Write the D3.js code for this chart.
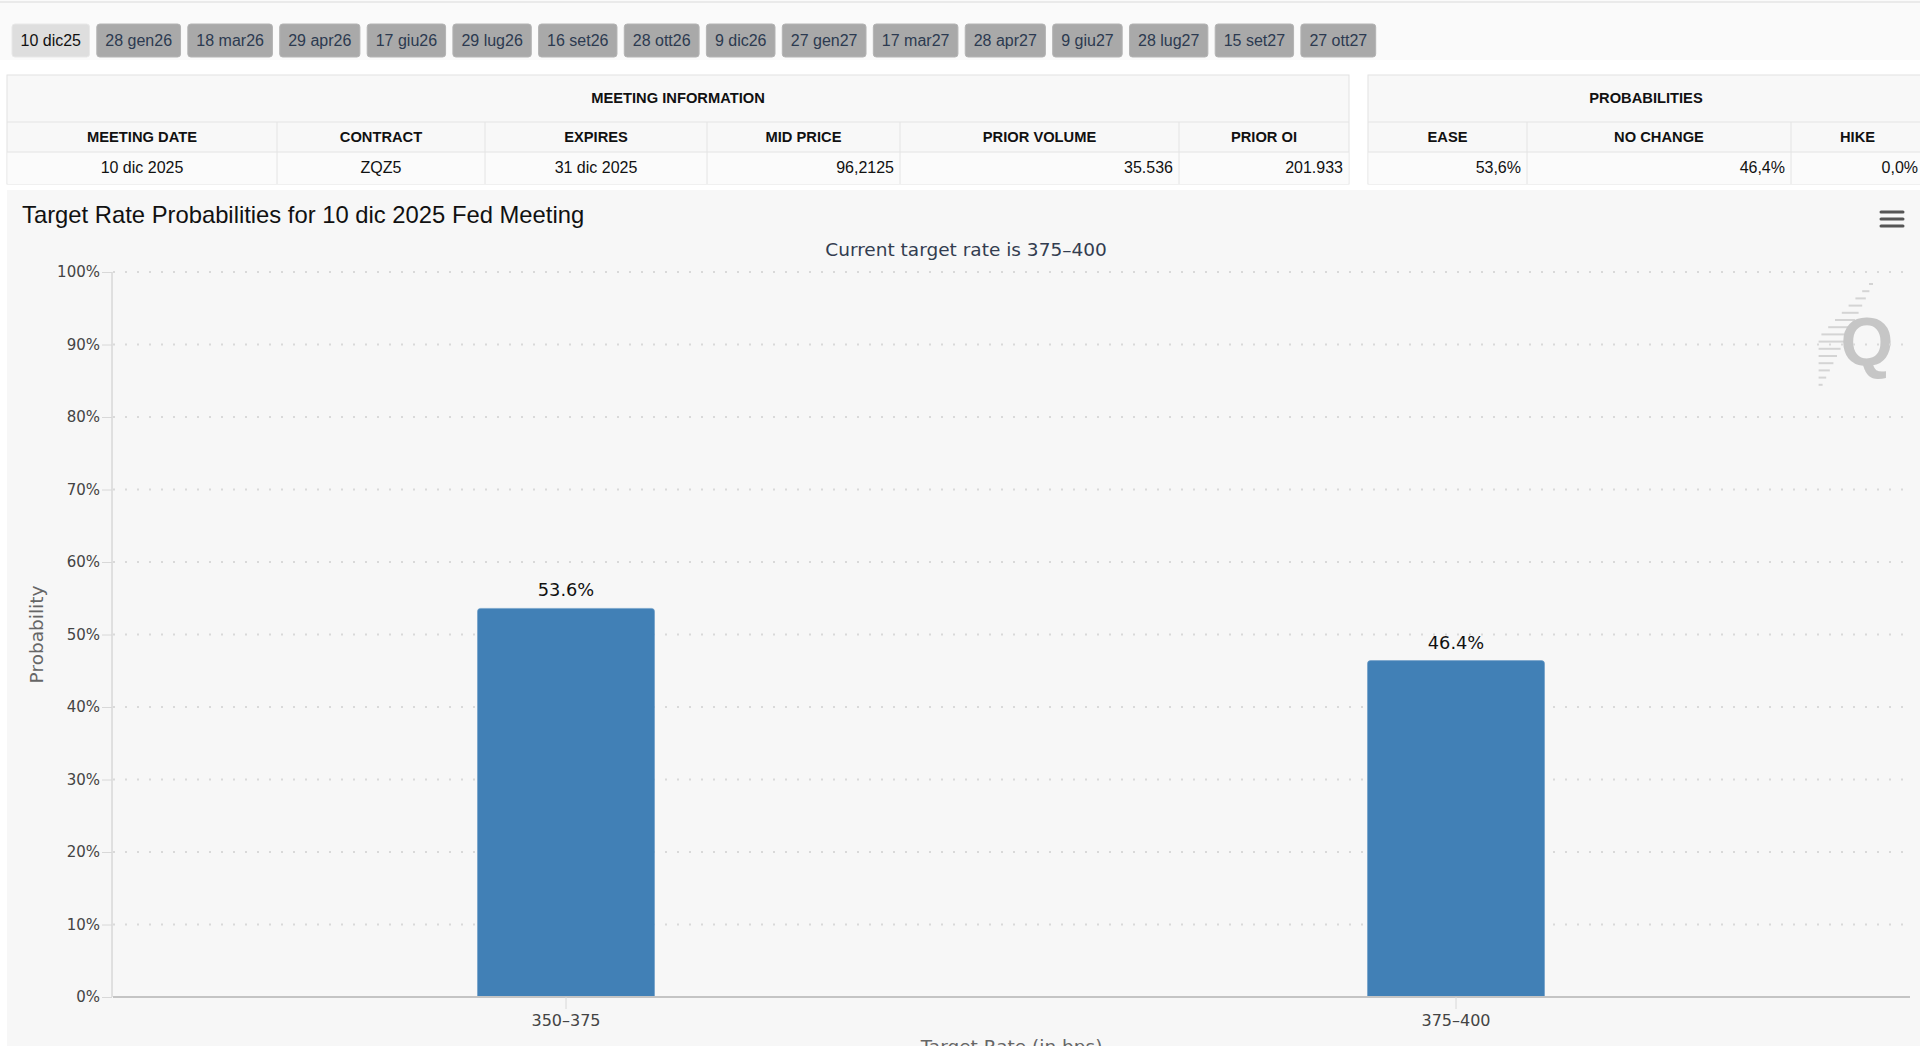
<!DOCTYPE html>
<html>
<head>
<meta charset="utf-8">
<script src="https://cdn.jsdelivr.net/npm/d3@7"></script>
<style>
    body { margin: 0; background: #fff; overflow: hidden; }
    svg { display: block; }
</style>
</head>
<body>
<svg id="page" width="1920" height="1046"></svg>
<script>
// meeting tabs
var meetingDates = ["10 dic25", "28 gen26", "18 mar26", "29 apr26", "17 giu26", "29 lug26", "16 set26", "28 ott26",
    "9 dic26", "27 gen27", "17 mar27", "28 apr27", "9 giu27", "28 lug27", "15 set27", "27 ott27"];

// tables
var infoHeaders = ["MEETING DATE", "CONTRACT", "EXPIRES", "MID PRICE", "PRIOR VOLUME", "PRIOR OI"];
var infoValues = ["10 dic 2025", "ZQZ5", "31 dic 2025", "96,2125", "35.536", "201.933"];
var probHeaders = ["EASE", "NO CHANGE", "HIKE"];
var probValues = ["53,6%", "46,4%", "0,0%"];

// chart
var targetRates = ["350–375", "375–400"];
var probabilities = [53.6, 46.4];
var yTicks = [0, 10, 20, 30, 40, 50, 60, 70, 80, 90, 100];

var svg = d3.select("#page");
var sans = "'Liberation Sans', Arial, Helvetica, sans-serif";
var chartFont = "'DejaVu Sans', Verdana, sans-serif";

// top rule
svg.append("rect").attr("x", 0).attr("y", 0).attr("width", 1920).attr("height", 60).attr("fill", "#fafafa");
svg.append("line").attr("x1", 0).attr("x2", 1920).attr("y1", 2).attr("y2", 2)
    .attr("stroke", "#e4e4e4").attr("stroke-width", 1.5);

/// Tabs: widths from the measured text
var tabs = svg.append("g").attr("class", "tabs");
var tabX = 12;
meetingDates.forEach(function (d, i) {
    var g = tabs.append("g");
    var rect = g.append("rect").attr("y", 24).attr("height", 33).attr("rx", 3)
        .attr("fill", i === 0 ? "#dedede" : "#a9a9a9")
        .attr("stroke", i === 0 ? "#e8e8e8" : "#b4b4b4");
    var t = g.append("text").attr("y", 46).attr("font-family", sans).attr("font-size", 16)
        .attr("fill", i === 0 ? "#111" : "#2c3a50").text(d);
    var w = t.node().getComputedTextLength() + 17;
    rect.attr("x", tabX).attr("width", w);
    t.attr("x", tabX + 8.5);
    tabX += w + 7.3;
});

/// Tables
function drawTable(title, headers, values, edges, aligns) {
    var g = svg.append("g");
    var x0 = edges[0], x1 = edges[edges.length - 1];
    var rows = [75, 122, 152, 184];
    g.append("rect").attr("x", x0).attr("y", rows[0]).attr("width", x1 - x0).attr("height", rows[3] - rows[0])
        .attr("fill", "#f8f8f8").attr("stroke", "#e2e2e2");
    g.append("rect").attr("x", x0 + 0.5).attr("y", rows[2]).attr("width", x1 - x0 - 1).attr("height", rows[3] - rows[2])
        .attr("fill", "#fbfbfb");
    [rows[1], rows[2]].forEach(function (y) {
        g.append("line").attr("x1", x0).attr("x2", x1).attr("y1", y).attr("y2", y).attr("stroke", "#e4e4e4");
    });
    edges.slice(1, -1).forEach(function (x) {
        g.append("line").attr("x1", x).attr("x2", x).attr("y1", rows[1]).attr("y2", rows[3]).attr("stroke", "#e4e4e4");
    });
    g.append("text").attr("x", (x0 + x1) / 2).attr("y", 103).attr("text-anchor", "middle")
        .attr("font-family", sans).attr("font-size", 14.7).attr("font-weight", "bold").attr("fill", "#111").text(title);
    headers.forEach(function (h, i) {
        g.append("text").attr("x", (edges[i] + edges[i + 1]) / 2).attr("y", 142).attr("text-anchor", "middle")
            .attr("font-family", sans).attr("font-size", 14.7).attr("font-weight", "bold").attr("fill", "#111").text(h);
    });
    values.forEach(function (v, i) {
        var right = aligns[i] === "right";
        g.append("text")
            .attr("x", right ? Math.min(edges[i + 1], 1924) - 6 : (edges[i] + edges[i + 1]) / 2)
            .attr("y", 173).attr("text-anchor", right ? "end" : "middle")
            .attr("font-family", sans).attr("font-size", 16).attr("fill", "#111").text(v);
    });
}
drawTable("MEETING INFORMATION", infoHeaders, infoValues,
    [7, 277, 485, 707, 900, 1179, 1349], ["center", "center", "center", "right", "right", "right"]);
drawTable("PROBABILITIES", probHeaders, probValues,
    [1368, 1527, 1791, 1924], ["right", "right", "right"]);

/// Chart panel
svg.append("rect").attr("x", 7).attr("y", 190).attr("width", 1913).attr("height", 856).attr("fill", "#f7f7f7");

svg.append("text").attr("x", 22).attr("y", 223).attr("font-family", sans).attr("font-size", 23.8)
    .attr("fill", "#111").text("Target Rate Probabilities for 10 dic 2025 Fed Meeting");
svg.append("text").attr("x", 966).attr("y", 256).attr("text-anchor", "middle").attr("font-family", chartFont)
    .attr("font-size", 18.5).attr("fill", "#333d50").text("Current target rate is 375–400");

// context menu icon
[212, 219, 226].forEach(function (y) {
    svg.append("line").attr("x1", 1881).attr("x2", 1903).attr("y1", y).attr("y2", y)
        .attr("stroke", "#555").attr("stroke-width", 3).attr("stroke-linecap", "round");
});

// watermark
var wm = svg.append("g").attr("fill", "none").attr("stroke", "#d4d4d4").attr("stroke-width", 2);
d3.range(15).forEach(function (k) {
    var y = 284 + k * 7.2;
    var xEnd = 1873 - k * 3.6;
    var len = 4 + (k < 8 ? k * 3.2 : (14 - k) * 3.6);
    wm.append("line").attr("x1", xEnd - len).attr("x2", xEnd).attr("y1", y).attr("y2", y);
});
svg.append("text").attr("x", 1867).attr("y", 365).attr("text-anchor", "middle").attr("font-family", sans)
    .attr("font-weight", "bold").attr("font-size", 68).attr("fill", "#c6c6c6").text("Q");

/// Plot
var plot = { left: 113, right: 1910, top: 272, bottom: 997 };
var xScale = d3.scaleBand().domain(targetRates).range([121, 1901]).padding(0);
var yScale = d3.scaleLinear().domain([0, 100]).range([plot.bottom, plot.top]);

// grid
svg.append("g").selectAll("line").data(yTicks).enter().append("line")
    .attr("x1", plot.left).attr("x2", plot.right)
    .attr("y1", function (d) { return yScale(d); }).attr("y2", function (d) { return yScale(d); })
    .attr("stroke", "#d9d9d9").attr("stroke-width", 2).attr("stroke-dasharray", "2,10");

// y axis
var yAxis = d3.axisLeft(yScale).tickValues(yTicks).tickSize(10).tickPadding(2)
    .tickFormat(function (d) { return d + "%"; });
var yG = svg.append("g").attr("transform", "translate(" + (plot.left - 1) + ",0)").call(yAxis);
yG.select(".domain").attr("stroke", "#c8c8c8").attr("d", "M0," + plot.top + "V" + plot.bottom);
yG.selectAll(".tick line").attr("stroke", "#d8d8d8");
yG.selectAll(".tick text").attr("font-family", chartFont).attr("font-size", 15).attr("fill", "#444");

svg.append("text").attr("transform", "translate(43," + ((plot.top + plot.bottom) / 2) + ") rotate(-90)")
    .attr("text-anchor", "middle").attr("font-family", chartFont).attr("font-size", 18.5).attr("fill", "#666")
    .text("Probability");

// bars
var barW = 177;
var bars = svg.append("g").selectAll("g").data(probabilities).enter().append("g");
bars.append("path")
    .attr("d", function (d, i) {
        var x0 = xScale(targetRates[i]) + xScale.bandwidth() / 2 - barW / 2,
            x1 = x0 + barW, y0 = yScale(d), y1 = yScale(0), r = 3;
        return "M" + x0 + "," + y1 + "V" + (y0 + r) + "Q" + x0 + "," + y0 + " " + (x0 + r) + "," + y0 +
            "H" + (x1 - r) + "Q" + x1 + "," + y0 + " " + x1 + "," + (y0 + r) + "V" + y1 + "Z";
    })
    .attr("fill", "#4180b6").attr("stroke", "#6a9bc6").attr("stroke-width", 0.6);
bars.append("text")
    .attr("x", function (d, i) { return xScale(targetRates[i]) + xScale.bandwidth() / 2; })
    .attr("y", function (d) { return yScale(d) - 12; })
    .attr("text-anchor", "middle").attr("font-family", chartFont).attr("font-size", 17.8).attr("fill", "#111")
    .text(function (d) { return d.toFixed(1) + "%"; });

// x axis
var xAxis = d3.axisBottom(xScale).tickSize(12).tickPadding(6);
var xG = svg.append("g").attr("transform", "translate(0," + plot.bottom + ")").call(xAxis);
xG.select(".domain").attr("stroke", "#c4c4c4").attr("stroke-width", 2).attr("d", "M" + plot.left + ",0H" + plot.right);
xG.selectAll(".tick line").attr("stroke", "#d8d8d8");
xG.selectAll(".tick text").attr("font-family", chartFont).attr("font-size", 16).attr("fill", "#444");

svg.append("text").attr("x", (plot.left + plot.right) / 2).attr("y", 1053).attr("text-anchor", "middle")
    .attr("font-family", chartFont).attr("font-size", 18.5).attr("fill", "#666").text("Target Rate (in bps)");
</script>
</body>
</html>
